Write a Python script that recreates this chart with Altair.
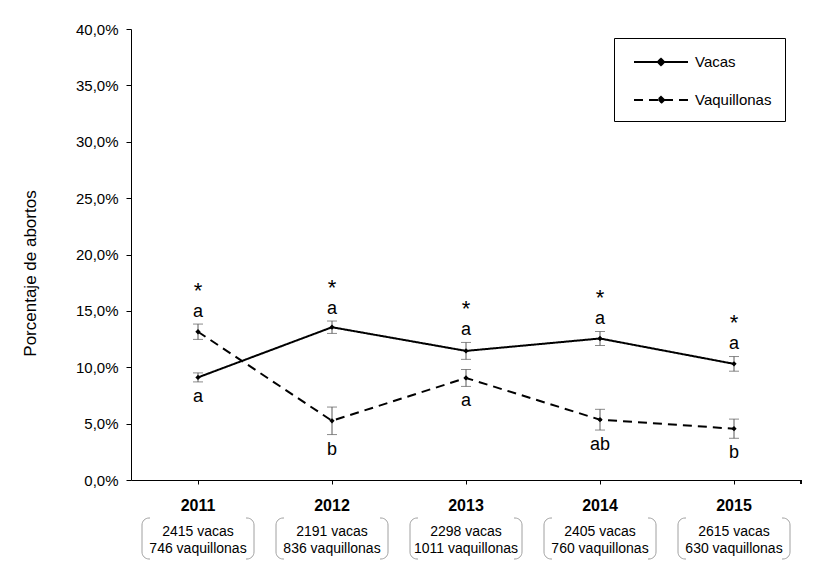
import altair as alt
import pandas as pd

# ---- data ----
years = ["2011", "2012", "2013", "2014", "2015"]
series_names = ["Vacas", "Vaquillonas"]
vacas = [9.1, 13.55, 11.45, 12.55, 10.3]
vacas_err = [0.4, 0.55, 0.75, 0.62, 0.65]
vaquillonas = [13.15, 5.25, 9.05, 5.35, 4.55]
vaquillonas_err = [0.68, 1.22, 0.75, 0.92, 0.85]
n_vacas = [2415, 2191, 2298, 2405, 2615]
n_vaquillonas = [746, 836, 1011, 760, 630]
signif = ["*", "*", "*", "*", "*"]
top_letters = ["a", "a", "a", "a", "a"]
bottom_letters = ["a", "b", "a", "ab", "b"]
y_ticks = [0, 5, 10, 15, 20, 25, 30, 35, 40]

FONT = "Liberation Sans, Arial, sans-serif"

rows = []
for i, yr in enumerate(years):
    rows.append(dict(year=yr, serie="Vacas", value=vacas[i],
                     lo=vacas[i] - vacas_err[i], hi=vacas[i] + vacas_err[i]))
    rows.append(dict(year=yr, serie="Vaquillonas", value=vaquillonas[i],
                     lo=vaquillonas[i] - vaquillonas_err[i], hi=vaquillonas[i] + vaquillonas_err[i]))
df = pd.DataFrame(rows)

ann = pd.DataFrame(dict(
    year=years,
    top=[max(vacas[i] + vacas_err[i], vaquillonas[i] + vaquillonas_err[i]) for i in range(len(years))],
    bottom=[min(vacas[i] - vacas_err[i], vaquillonas[i] - vaquillonas_err[i]) for i in range(len(years))],
    star=signif, up=top_letters, down=bottom_letters,
    l1=[f"{n} vacas" for n in n_vacas],
    l2=[f"{n} vaquillonas" for n in n_vaquillonas],
))

W, H = 670, 451

xaxis = alt.Axis(title=None, labelFont=FONT, labelFontSize=16, labelFontWeight="bold",
                 labelColor="black", labelAngle=0, labelPadding=13, tickSize=4,
                 tickColor="black", domainColor="black", grid=False)
yaxis = alt.Axis(title="Porcentaje de abortos", titleFont=FONT, titleFontSize=17,
                 titleFontWeight="normal", titleColor="black", titleAngle=270,
                 titleX=-96, titleY=244, titleAlign="center", titleBaseline="alphabetic",
                 values=y_ticks,
                 labelExpr="replace(format(datum.value, '.1f'), '.', ',') + '%'",
                 labelFont=FONT, labelFontSize=15, labelColor="black", labelPadding=8,
                 tickSize=5, tickColor="black", domainColor="black", grid=False)

xscale = alt.Scale(type="band", domain=years, paddingInner=0, paddingOuter=0)
yscale = alt.Scale(domain=[0, 40], nice=False, zero=True)

X = alt.X("year:N", scale=xscale, axis=xaxis)

def Yf(field):
    return alt.Y(f"{field}:Q", scale=yscale, axis=yaxis)

base = alt.Chart(df)
abase = alt.Chart(ann)

PATH = "M-0.4,0H5.0M2.3,-0.32L2.62,0L2.3,0.32L1.98,0Z"

lines = base.mark_line(color="black", strokeWidth=2).encode(
    x=X, y=Yf("value"),
    strokeDash=alt.StrokeDash(
        "serie:N",
        scale=alt.Scale(domain=series_names, range=[[1, 0], [9, 6]]),
        legend=alt.Legend(title=None, orient="none", legendX=483, legendY=9,
                          symbolType=PATH, symbolSize=400, symbolStrokeWidth=2,
                          symbolStrokeColor="black", symbolFillColor="black",
                          labelFont=FONT, labelFontSize=15, labelColor="black",
                          labelOffset=46, rowPadding=19, padding=13,
                          strokeColor="black", fillColor="white", direction="vertical"),
    ),
)
points = base.mark_point(shape="diamond", filled=True, size=28, color="black", opacity=1).encode(
    x=X, y=Yf("value"))
err_rule = base.mark_rule(color="#595959", strokeWidth=1).encode(x=X, y=Yf("lo"), y2="hi:Q")
err_lo = base.mark_tick(color="#595959", size=10, thickness=1).encode(x=X, y=Yf("lo"))
err_hi = base.mark_tick(color="#595959", size=10, thickness=1).encode(x=X, y=Yf("hi"))

stars = abase.mark_text(font=FONT, fontSize=22, baseline="alphabetic", dy=-26.5, color="black").encode(
    x=X, y=Yf("top"), text="star:N")
ups = abase.mark_text(font=FONT, fontSize=18, baseline="alphabetic", dy=-7.5, color="black").encode(
    x=X, y=Yf("top"), text="up:N")
downs = abase.mark_text(font=FONT, fontSize=18, baseline="alphabetic", dy=20, color="black").encode(
    x=X, y=Yf("bottom"), text="down:N")

boxes = abase.mark_bar(size=112, cornerRadius=7, fill="white", stroke="#a0a0a0", strokeWidth=1).encode(
    x=X, y=alt.value(489), y2=alt.value(530))
covers = abase.mark_bar(size=96, fill="white", strokeWidth=0).encode(
    x=X, y=alt.value(486), y2=alt.value(533))
line1 = abase.mark_text(font=FONT, fontSize=14, baseline="alphabetic", color="black").encode(
    x=X, y=alt.value(506.7), text="l1:N")
line2 = abase.mark_text(font=FONT, fontSize=14, baseline="alphabetic", color="black").encode(
    x=X, y=alt.value(524), text="l2:N")
end_tick = abase.mark_rule(color="black", strokeWidth=1).encode(
    x=alt.value(W), y=alt.value(H), y2=alt.value(H + 4))

chart = alt.layer(
    boxes, covers, line1, line2, err_rule, err_lo, err_hi, lines, points, stars, ups, downs, end_tick
).properties(
    width=W, height=H,
    padding={"left": 131, "top": 29, "right": 13, "bottom": 87},
    autosize=alt.AutoSizeParams(type="none"),
    background="white",
).configure_view(stroke=None)

chart.save("out.html", embed_options={"renderer": "svg", "actions": False})
